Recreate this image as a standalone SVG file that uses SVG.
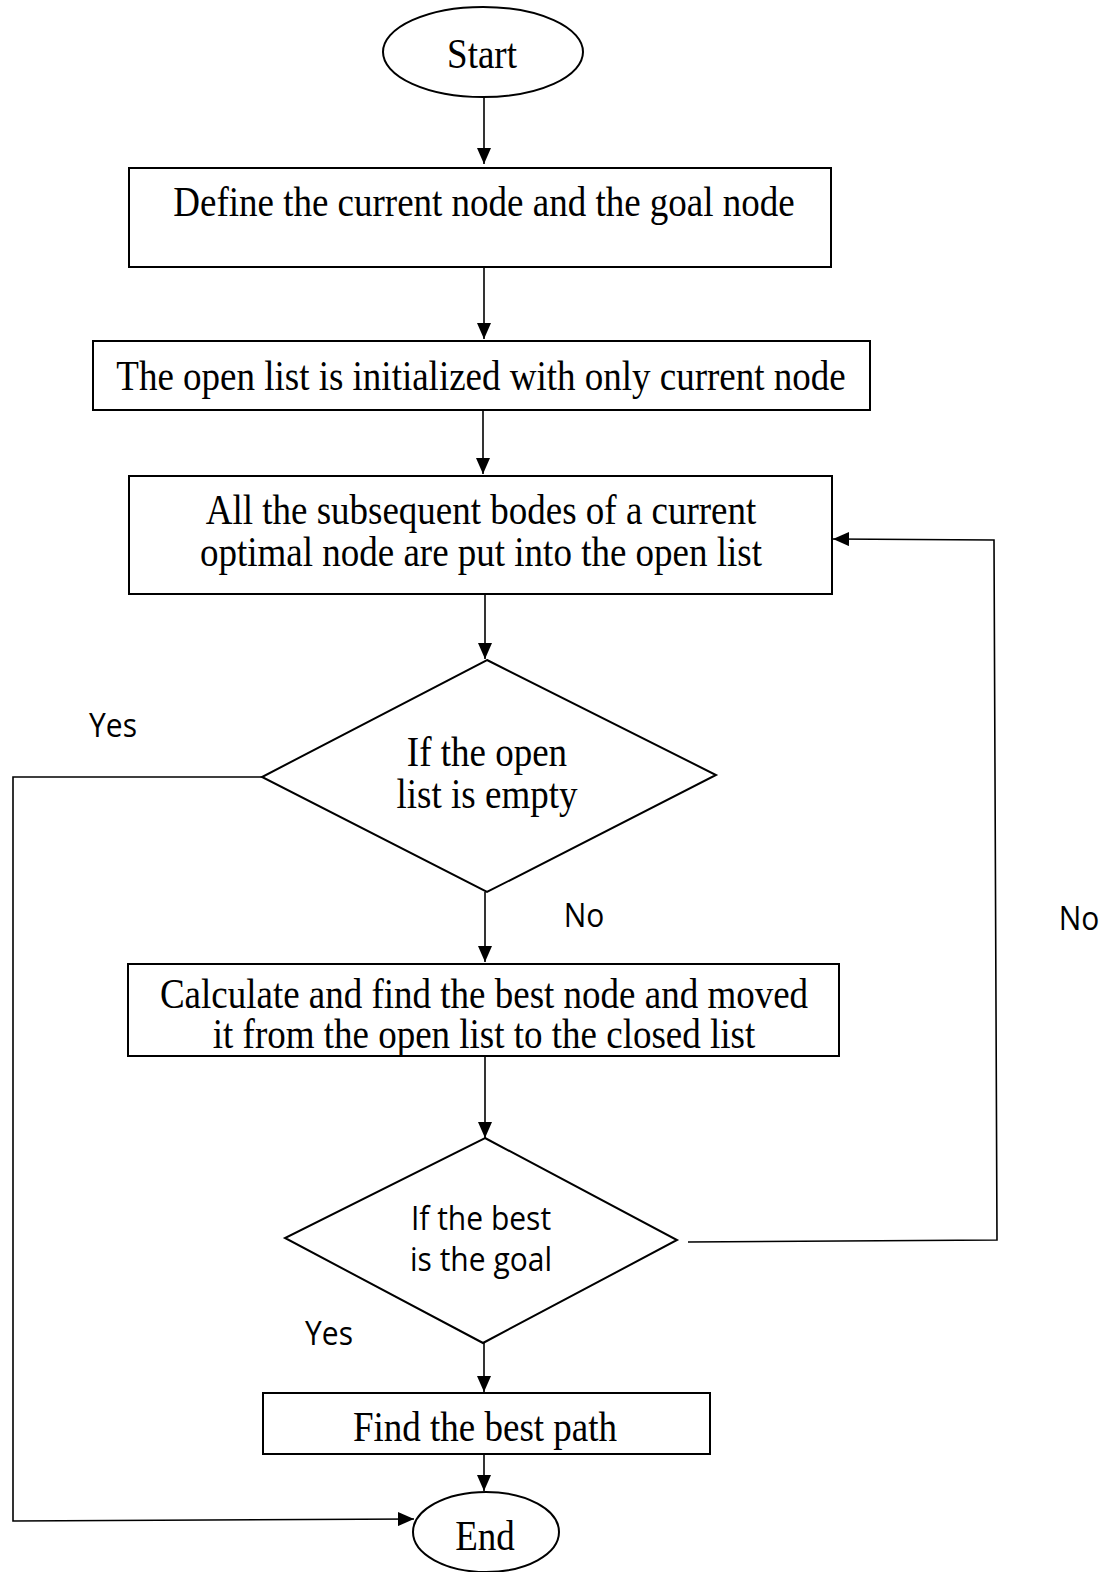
<svg xmlns="http://www.w3.org/2000/svg" width="1115" height="1572" viewBox="0 0 1115 1572">
<style>
.box{fill:#fff;stroke:#000;stroke-width:2}
.con{fill:none;stroke:#000;stroke-width:1.6}
.serif{font-family:"Liberation Serif","Times New Roman",serif;font-size:37px;fill:#000;text-anchor:middle}
.sans{font-family:"Open Sans","Liberation Sans",sans-serif;font-size:30px;fill:#000;text-anchor:middle}
</style>
<defs>
<marker id="arr" markerUnits="userSpaceOnUse" markerWidth="16" markerHeight="14" refX="16" refY="7" orient="auto">
<path d="M0,0 L16,7 L0,14 z" fill="#000"/>
</marker>
</defs>
<rect width="1115" height="1572" fill="#fff"/>
<g id="connectors">
<line class="con" x1="484" y1="97" x2="484" y2="164" marker-end="url(#arr)"/>
<line class="con" x1="484" y1="267" x2="484" y2="339" marker-end="url(#arr)"/>
<line class="con" x1="483" y1="410" x2="483" y2="474" marker-end="url(#arr)"/>
<line class="con" x1="485" y1="594" x2="485" y2="659" marker-end="url(#arr)"/>
<line class="con" x1="485" y1="892" x2="485" y2="962" marker-end="url(#arr)"/>
<line class="con" x1="485" y1="1056" x2="485" y2="1138" marker-end="url(#arr)"/>
<line class="con" x1="484" y1="1343" x2="484" y2="1392" marker-end="url(#arr)"/>
<line class="con" x1="484" y1="1454" x2="484" y2="1491" marker-end="url(#arr)"/>
<polyline class="con" points="262,777 13,777 13,1521 414,1519" marker-end="url(#arr)"/>
<polyline class="con" points="688,1242 997,1240 994,540 833,539" marker-end="url(#arr)"/>
</g>
<g id="start">
<ellipse class="box" cx="483" cy="52" rx="100" ry="45"/>
<text class="serif" x="482" y="68" transform="matrix(1,0,0,1.13,0,-8.84)">Start</text>
</g>
<g id="define">
<rect class="box" x="129" y="168" width="702" height="99"/>
<text class="serif" x="484" y="216" transform="matrix(1,0,0,1.13,0,-28.08)">Define the current node and the goal node</text>
</g>
<g id="init">
<rect class="box" x="93" y="341" width="777" height="69"/>
<text class="serif" x="481" y="390" transform="matrix(1,0,0,1.13,0,-50.7)">The open list is initialized with only current node</text>
</g>
<g id="expand">
<rect class="box" x="129" y="476" width="703" height="118"/>
<text class="serif" x="481" y="524" transform="matrix(1,0,0,1.13,0,-68.12)">All the subsequent bodes of a current</text>
<text class="serif" x="481" y="566" transform="matrix(1,0,0,1.13,0,-73.58)">optimal node are put into the open list</text>
</g>
<g id="empty">
<polygon class="box" points="487,660 716,775 487,892 262,777"/>
<text class="serif" x="487" y="766" transform="matrix(1,0,0,1.13,0,-99.58)">If the open</text>
<text class="serif" x="487" y="808" transform="matrix(1,0,0,1.13,0,-105.04)">list is empty</text>
</g>
<g id="calc">
<rect class="box" x="128" y="964" width="711" height="92"/>
<text class="serif" x="484" y="1008" transform="matrix(1,0,0,1.13,0,-131.04)">Calculate and find the best node and moved</text>
<text class="serif" x="484" y="1048" transform="matrix(1,0,0,1.13,0,-136.24)">it from the open list to the closed list</text>
</g>
<g id="goal">
<polygon class="box" points="485,1138 677,1240 483,1343 285,1238"/>
<text class="sans" x="481" y="1230" transform="matrix(1,0,0,1.12,0,-147.6)">If the best</text>
<text class="sans" x="481" y="1271" transform="matrix(1,0,0,1.12,0,-152.52)">is the goal</text>
</g>
<g id="path">
<rect class="box" x="263" y="1393" width="447" height="61"/>
<text class="serif" x="485" y="1441" transform="matrix(1,0,0,1.13,0,-187.33)">Find the best path</text>
</g>
<g id="end">
<ellipse class="box" cx="486" cy="1532" rx="73" ry="40"/>
<text class="serif" x="485" y="1550" transform="matrix(1,0,0,1.13,0,-201.5)">End</text>
</g>
<g id="labels">
<text class="sans" x="113" y="737" transform="matrix(1,0,0,1.12,0,-88.44)">Yes</text>
<text class="sans" x="584" y="927" transform="matrix(1,0,0,1.12,0,-111.24)">No</text>
<text class="sans" x="1079" y="930" transform="matrix(1,0,0,1.12,0,-111.6)">No</text>
<text class="sans" x="329" y="1345" transform="matrix(1,0,0,1.12,0,-161.4)">Yes</text>
</g>
</svg>
